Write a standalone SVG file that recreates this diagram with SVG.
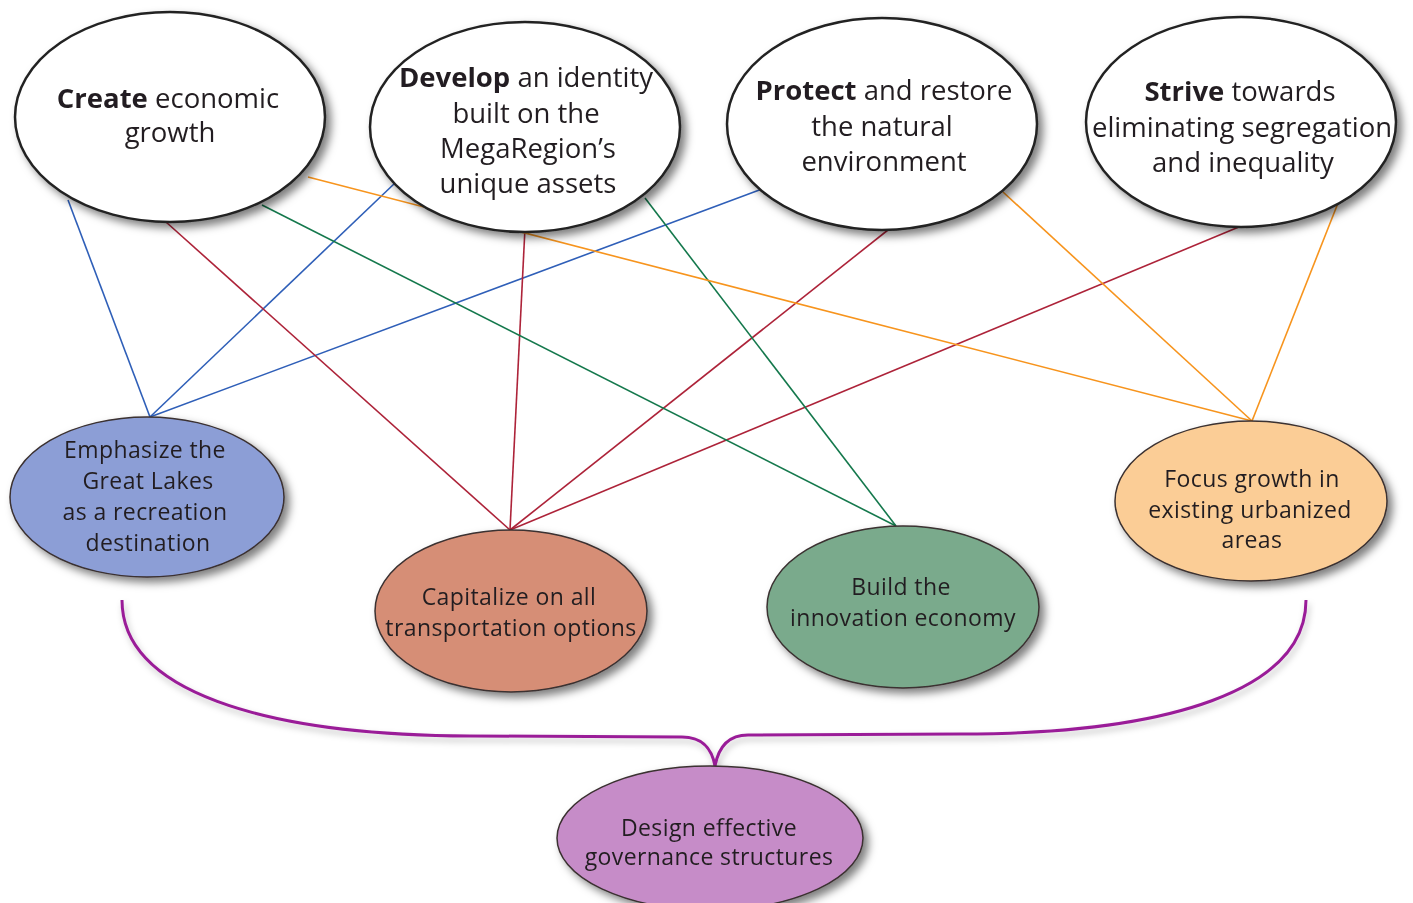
<svg xmlns="http://www.w3.org/2000/svg" width="1413" height="903" viewBox="0 0 1413 903">
  <defs>
    <filter id="shadow" x="-20%" y="-20%" width="150%" height="150%">
      <feDropShadow dx="5" dy="5" stdDeviation="4.5" flood-color="#000" flood-opacity="0.5"/>
    </filter>
    <filter id="softShadow" x="-10%" y="-20%" width="130%" height="160%">
      <feDropShadow dx="2" dy="4" stdDeviation="3" flood-color="#000" flood-opacity="0.25"/>
    </filter>
  </defs>
  <style>
    .goal { fill: #ffffff; stroke: #222222; stroke-width: 2.5; }
    .act { stroke: #3a3030; stroke-width: 1.5; }
    .t { font-family: "Open Sans", "Liberation Sans", sans-serif; fill: #231f20; text-anchor: middle; }
    .big { font-size: 27.5px; }
    .small { font-size: 23px; letter-spacing: 0.4px; }
    .b { font-weight: bold; }
    .ln { fill: none; stroke-width: 1.6; }
    .blue { stroke: #2f5fb8; }
    .red { stroke: #ad2339; }
    .green { stroke: #14784c; }
    .orange { stroke: #f7941d; }
    .brace { fill: none; stroke: #9a1f98; stroke-width: 3; }
  </style>

  <rect width="1413" height="903" fill="#ffffff"/>

  <!-- connectors between goals and actions -->
  <g id="connectors">
    <line class="ln blue" x1="68" y1="200" x2="150" y2="417"/>
    <line class="ln blue" x1="395" y1="183" x2="150" y2="417"/>
    <line class="ln blue" x1="762" y1="189" x2="150" y2="417"/>
    <line class="ln red" x1="166" y1="222" x2="510" y2="530"/>
    <line class="ln red" x1="525" y1="228" x2="510" y2="530"/>
    <line class="ln red" x1="893" y1="226" x2="510" y2="530"/>
    <line class="ln red" x1="1246" y1="224" x2="510" y2="530"/>
    <line class="ln green" x1="262" y1="205" x2="896" y2="526"/>
    <line class="ln green" x1="645" y1="198" x2="896" y2="526"/>
    <line class="ln orange" x1="308" y1="177" x2="1252" y2="421"/>
    <line class="ln orange" x1="1003" y1="192" x2="1252" y2="421"/>
    <line class="ln orange" x1="1340" y1="198" x2="1252" y2="421"/>
  </g>

  <!-- brace gathering the actions into governance -->
  <g id="brace" filter="url(#softShadow)">
    <path class="brace" d="M122,600 C122,690 260,735 470,736 L682,737 C704,737 712,750 715,766"/>
    <path class="brace" d="M1306,600 C1306,690 1170,734 960,734 L748,735 C726,735 718,750 715,766"/>
  </g>

  <!-- goals -->
  <g id="goal-create" filter="url(#shadow)">
    <ellipse class="goal" cx="170" cy="117" rx="155" ry="105"/>
    <text class="t big" x="168" y="108"><tspan class="b">Create</tspan> economic</text>
    <text class="t big" x="170" y="142">growth</text>
  </g>
  <g id="goal-develop" filter="url(#shadow)">
    <ellipse class="goal" cx="525" cy="127" rx="155" ry="105"/>
    <text class="t big" x="526" y="87"><tspan class="b">Develop</tspan> an identity</text>
    <text class="t big" x="526" y="123">built on the</text>
    <text class="t big" x="528" y="158">MegaRegion’s</text>
    <text class="t big" x="528" y="193">unique assets</text>
  </g>
  <g id="goal-protect" filter="url(#shadow)">
    <ellipse class="goal" cx="882" cy="124" rx="155" ry="106"/>
    <text class="t big" x="884" y="100"><tspan class="b">Protect</tspan> and restore</text>
    <text class="t big" x="882" y="136">the natural</text>
    <text class="t big" x="884" y="171">environment</text>
  </g>
  <g id="goal-strive" filter="url(#shadow)">
    <ellipse class="goal" cx="1241" cy="122" rx="155" ry="105"/>
    <text class="t big" x="1240" y="101"><tspan class="b">Strive</tspan> towards</text>
    <text class="t big" x="1242" y="137">eliminating segregation</text>
    <text class="t big" x="1243" y="172">and inequality</text>
  </g>

  <!-- actions -->
  <g id="action-emphasize" filter="url(#shadow)">
    <ellipse class="act" cx="147" cy="497" rx="137" ry="80" fill="#8c9ed6"/>
    <text class="t small" x="145" y="458">Emphasize the</text>
    <text class="t small" x="148" y="489">Great Lakes</text>
    <text class="t small" x="145" y="520">as a recreation</text>
    <text class="t small" x="148" y="551">destination</text>
  </g>
  <g id="action-capitalize" filter="url(#shadow)">
    <ellipse class="act" cx="511" cy="611" rx="136" ry="81" fill="#d68e76"/>
    <text class="t small" x="509" y="605">Capitalize on all</text>
    <text class="t small" x="511" y="636">transportation options</text>
  </g>
  <g id="action-build" filter="url(#shadow)">
    <ellipse class="act" cx="903" cy="607" rx="136" ry="81" fill="#7aaa8c"/>
    <text class="t small" x="901" y="595">Build the</text>
    <text class="t small" x="903" y="626">innovation economy</text>
  </g>
  <g id="action-focus" filter="url(#shadow)">
    <ellipse class="act" cx="1251" cy="501" rx="136" ry="80" fill="#fbcd96"/>
    <text class="t small" x="1252" y="487">Focus growth in</text>
    <text class="t small" x="1250" y="518">existing urbanized</text>
    <text class="t small" x="1252" y="548">areas</text>
  </g>
  <g id="action-design" filter="url(#shadow)">
    <ellipse class="act" cx="710" cy="838" rx="153" ry="72" fill="#c68cc8"/>
    <text class="t small" x="709" y="836">Design effective</text>
    <text class="t small" x="709" y="865">governance structures</text>
  </g>
</svg>
